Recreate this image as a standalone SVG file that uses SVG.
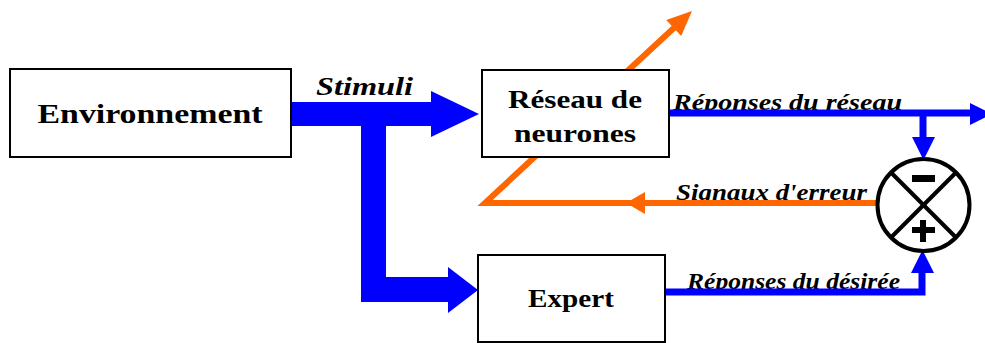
<svg xmlns="http://www.w3.org/2000/svg" width="985" height="343" viewBox="0 0 985 343">
  <style>
    .box { fill: #ffffff; stroke: #000000; stroke-width: 2; }
    .title { font-family: "Liberation Serif", "Times New Roman", serif; font-weight: bold; fill: #000000; text-anchor: middle; }
    .lbl { font-family: "Liberation Serif", "Times New Roman", serif; font-style: italic; font-weight: bold; fill: #000000; }
    .blue { fill: #0000ff; }
    .blueline { stroke: #0000ff; stroke-width: 7; fill: none; }
    .orange { fill: #ff6600; }
    .orangeline { stroke: #ff6600; stroke-width: 6; fill: none; }
  </style>

  <!-- labels (drawn beneath the connectors) -->
  <g id="labels">
    <text class="lbl" x="316" y="95" font-size="25" textLength="97" lengthAdjust="spacingAndGlyphs">Stimuli</text>
    <text class="lbl" x="673" y="110" font-size="23" textLength="229" lengthAdjust="spacingAndGlyphs">Réponses du réseau</text>
    <text class="lbl" x="676" y="200" font-size="23" textLength="191" lengthAdjust="spacingAndGlyphs">Signaux d'erreur</text>
    <text class="lbl" x="687" y="289" font-size="23" font-weight="normal" textLength="213" lengthAdjust="spacingAndGlyphs">Réponses du désirée</text>
  </g>

  <!-- connectors -->
  <g id="connectors">
    <!-- stimuli fork to the network and to the expert -->
    <path class="blue" d="M291,102 H431 V91 L479,114 L431,137 V126 H386 V277 H448 V267 L478,290 L448,313 V302 H361 V126 H291 Z"/>

    <!-- network output -->
    <line class="blueline" x1="669" y1="113" x2="972" y2="113"/>
    <polygon class="blue" points="970,103 992,114 970,125"/>
    <line class="blueline" x1="923" y1="113" x2="923" y2="139"/>
    <polygon class="blue" points="912,137 935,137 923.5,160"/>

    <!-- desired output -->
    <polyline class="blueline" points="665,292 922,292 922,272"/>
    <polygon class="blue" points="911,273 934,273 922.5,250"/>

    <!-- error signal feedback, passing behind the network box -->
    <polyline class="orangeline" points="877,203 485,203 676,26"/>
    <polygon class="orange" points="626,203 645,192 645,214"/>
    <polygon class="orange" points="692,11 681.2,36.1 666.2,19.9"/>
  </g>

  <!-- nodes -->
  <g id="environnement">
    <rect class="box" x="10" y="69" width="281" height="88"/>
    <text class="title" x="150" y="123" font-size="28" textLength="225" lengthAdjust="spacingAndGlyphs">Environnement</text>
  </g>
  <g id="reseau">
    <rect class="box" x="482" y="70" width="187" height="87"/>
    <text class="title" x="575" y="108" font-size="25" textLength="134" lengthAdjust="spacingAndGlyphs">Réseau de</text>
    <text class="title" x="575" y="142" font-size="25" textLength="122" lengthAdjust="spacingAndGlyphs">neurones</text>
  </g>
  <g id="expert">
    <rect class="box" x="478" y="255" width="187" height="87"/>
    <text class="title" x="571" y="307" font-size="25" textLength="86" lengthAdjust="spacingAndGlyphs">Expert</text>
  </g>
  <g id="comparateur">
    <circle cx="923.5" cy="205" r="46" fill="#ffffff" stroke="#000000" stroke-width="4"/>
    <line x1="891" y1="172.5" x2="956" y2="237.5" stroke="#000000" stroke-width="4"/>
    <line x1="956" y1="172.5" x2="891" y2="237.5" stroke="#000000" stroke-width="4"/>
    <rect x="912" y="175" width="23" height="7" fill="#000000"/>
    <rect x="912" y="227" width="23" height="6" fill="#000000"/>
    <rect x="920" y="220" width="6" height="22" fill="#000000"/>
  </g>
</svg>
